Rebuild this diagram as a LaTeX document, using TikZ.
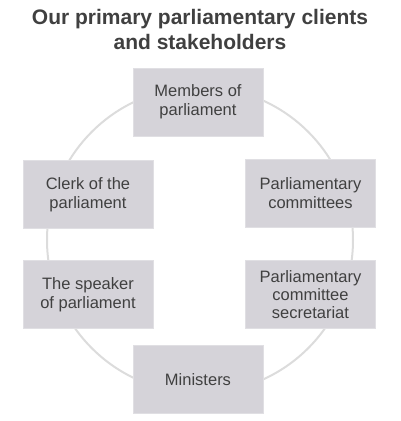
\documentclass[tikz,border=0pt]{standalone}
\usepackage{fontspec}
\setmainfont{Liberation Sans}
\definecolor{boxfill}{HTML}{D5D3D9}
\definecolor{boxline}{HTML}{E0DFE3}
\definecolor{ringcol}{HTML}{DCDCDC}
\definecolor{txt}{HTML}{404040}
\begin{document}
\begin{tikzpicture}[x=1pt,y=-1pt,
  stakebox/.style={draw=boxline, line width=1pt, fill=boxfill, minimum width=130pt, minimum height=68pt,
    inner sep=0pt, align=center, text=txt, font=\fontsize{16.5}{19}\selectfont}]
\useasboundingbox (0,0) rectangle (400,421);
\draw[ringcol, line width=2pt] (200,240) circle[radius=153];
\node[text=txt, font=\bfseries\fontsize{21}{25}\selectfont, align=center] (title) at (200,29.5) {Our primary parliamentary clients\\and stakeholders};
\node[stakebox] (mp) at (198,102) {Members of\\parliament};
\node[stakebox] (clerk) at (88,194.5) {Clerk of the\\parliament};
\node[stakebox] (pc) at (310.5,193) {Parliamentary\\committees};
\node[stakebox] (speaker) at (88,294.5) {The speaker\\of parliament};
\node[stakebox, font=\fontsize{16.5}{18}\selectfont] (sec) at (310.5,294.5) {Parliamentary\\committee\\secretariat};
\node[stakebox] (min) at (198,379.5) {Ministers};
\end{tikzpicture}
\end{document}
